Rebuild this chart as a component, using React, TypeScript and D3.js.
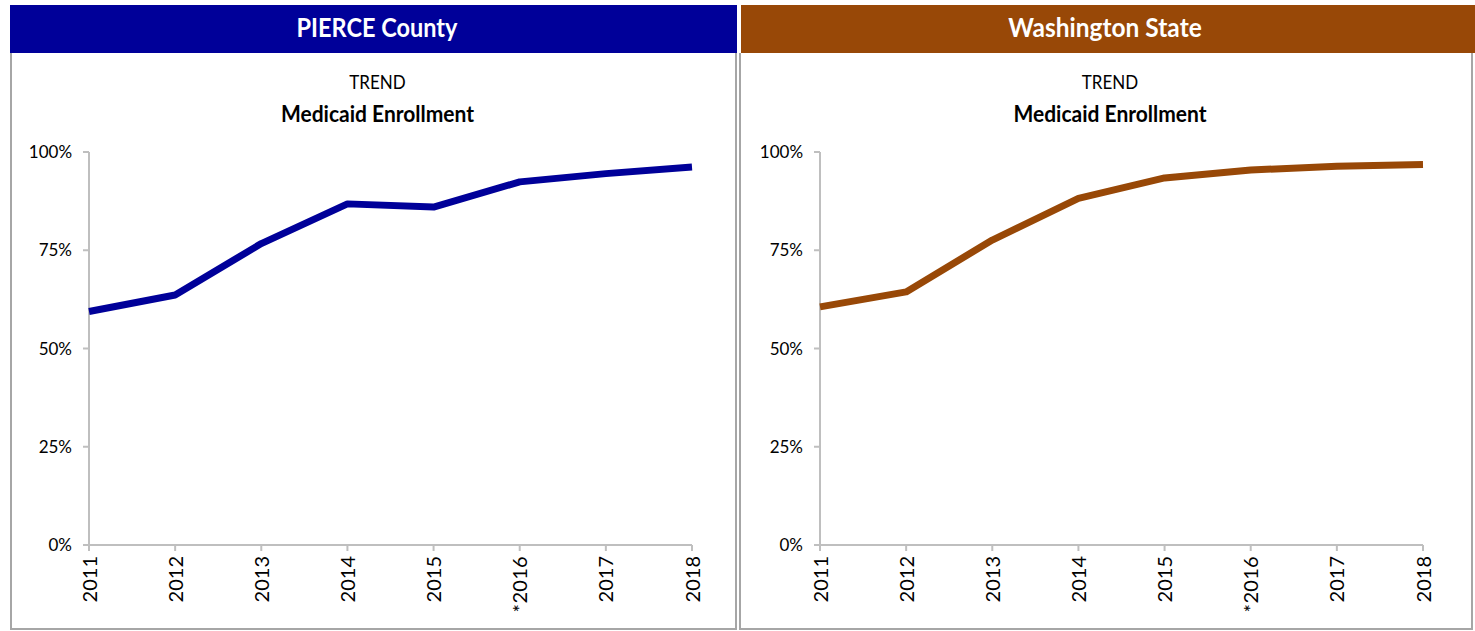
import React from "react";
import * as d3 from "d3";

const years = ["2011", "2012", "2013", "2014", "2015", "*2016", "2017", "2018"];
const pierceValues = [0.594, 0.636, 0.767, 0.868, 0.86, 0.924, 0.945, 0.962];
const waValues = [0.606, 0.644, 0.776, 0.882, 0.934, 0.954, 0.964, 0.968];
const yTicks = [0, 0.25, 0.5, 0.75, 1];
const panelTitles = ["PIERCE County", "Washington State"];
const subTitle = "TREND";
const chartTitle = "Medicaid Enrollment";

const FONT = "Lato, 'Open Sans', sans-serif";

type PanelProps = {
  x0: number;
  x1: number;
  headerX0: number;
  headerX1: number;
  titleX: number;
  titleSize: number;
  plotLeft: number;
  plotRight: number;
  color: string;
  title: string;
  values: number[];
};

function StretchText(props: {
  x: number;
  y: number;
  sy: number;
  size: number;
  weight?: number;
  fill?: string;
  anchor?: string;
  children: React.ReactNode;
}) {
  return (
    <text
      transform={`translate(${props.x},${props.y}) scale(1,${props.sy})`}
      textAnchor={props.anchor || "middle"}
      fontFamily={FONT}
      fontSize={props.size}
      fontWeight={props.weight || 400}
      fill={props.fill || "#000"}
    >
      {props.children}
    </text>
  );
}

function Panel(p: PanelProps) {
  const x = d3.scalePoint<string>().domain(years).range([p.plotLeft, p.plotRight]);
  const y = d3.scaleLinear().domain([0, 1]).range([545, 152]);
  const line = d3
    .line<number>()
    .x((_, i) => x(years[i]) as number)
    .y((d) => y(d));
  const tcx = (p.x0 + p.x1) / 2 + 4;
  const axisColor = "#BFBFBF";
  return (
    <g>
      <rect x={p.headerX0} y={5} width={p.headerX1 - p.headerX0} height={48} fill={p.color} />
      <StretchText x={p.titleX} y={37} sy={1.1} size={p.titleSize} weight={700} fill="#fff">
        {p.title}
      </StretchText>
      <path
        d={`M${p.x0},53 V629 H${p.x1} V53`}
        fill="none"
        stroke="#A6A6A6"
        strokeWidth={2}
      />
      <StretchText x={tcx} y={89} sy={1.1} size={17}>
        {subTitle}
      </StretchText>
      <StretchText x={tcx} y={122} sy={1.05} size={21} weight={700}>
        {chartTitle}
      </StretchText>
      {/* y axis */}
      <line x1={p.plotLeft} x2={p.plotLeft} y1={y(1)} y2={y(0)} stroke={axisColor} strokeWidth={2} />
      {yTicks.map((t) => (
        <g key={t}>
          <line x1={p.plotLeft - 6} x2={p.plotLeft} y1={y(t)} y2={y(t)} stroke={axisColor} strokeWidth={2} />
          <StretchText x={p.plotLeft - 17} y={y(t) + 6} sy={1.05} size={17} anchor="end">
            {`${Math.round(t * 100)}%`}
          </StretchText>
        </g>
      ))}
      {/* x axis */}
      <line x1={p.plotLeft - 6} x2={p.plotRight} y1={y(0)} y2={y(0)} stroke={axisColor} strokeWidth={2} />
      {years.map((yr) => (
        <g key={yr}>
          <line
            x1={x(yr) as number}
            x2={x(yr) as number}
            y1={y(0)}
            y2={y(0) + 6}
            stroke={axisColor}
            strokeWidth={2}
          />
          <text
            transform={`translate(${(x(yr) as number) + 7.5},${y(0) + 11}) rotate(-90)`}
            textAnchor="end"
            fontFamily={FONT}
            fontSize={20}
            fill="#000"
            letterSpacing={yr.startsWith("*") ? 0.3 : 0}
          >
            {yr}
          </text>
        </g>
      ))}
      <path
        d={line(p.values) || ""}
        fill="none"
        stroke={p.color}
        strokeWidth={7}
        strokeLinejoin="round"
      />
    </g>
  );
}

export default function App() {
  return (
    <svg
      width={1475}
      height={631}
      style={{ position: "absolute", left: 0, top: 0, background: "#fff" }}
    >
      <rect x={0} y={0} width={1475} height={631} fill="#fff" />
      <Panel
        x0={11}
        x1={736}
        headerX0={10}
        headerX1={737}
        titleX={377}
        titleSize={23.5}
        plotLeft={89}
        plotRight={692}
        color="#000099"
        title={panelTitles[0]}
        values={pierceValues}
      />
      <Panel
        x0={740}
        x1={1472}
        headerX0={741}
        headerX1={1475}
        titleX={1105}
        titleSize={24.5}
        plotLeft={820}
        plotRight={1423}
        color="#984807"
        title={panelTitles[1]}
        values={waValues}
      />
    </svg>
  );
}
